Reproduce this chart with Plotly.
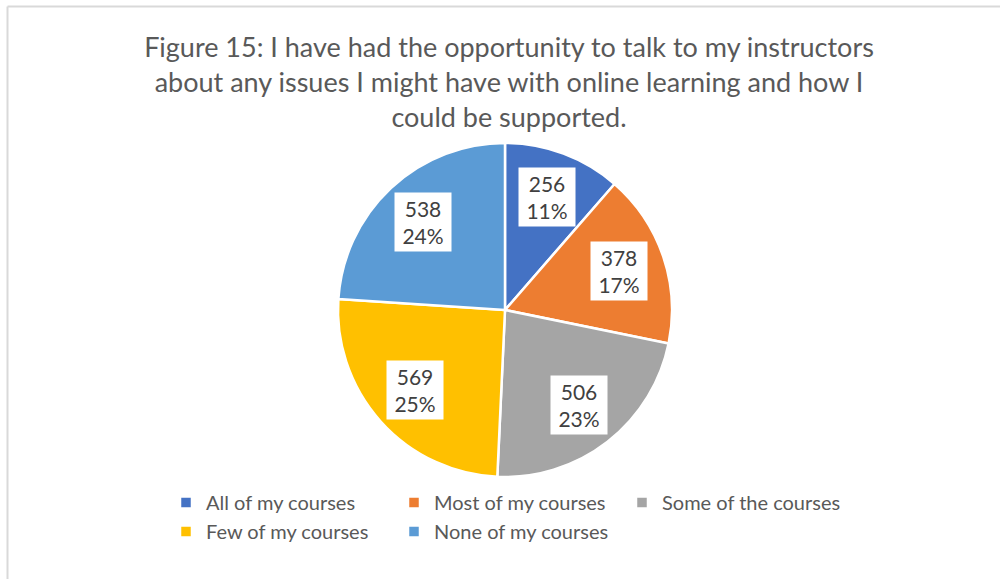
import math
import plotly.graph_objects as go

# data
categories = ["All of my courses", "Most of my courses", "Some of the courses",
              "Few of my courses", "None of my courses"]
counts = [256, 378, 506, 569, 538]
colors = ["#4472C4", "#ED7D31", "#A5A5A5", "#FFC000", "#5B9BD5"]

title_text = ("Figure 15: I have had the opportunity to talk to my instructors<br>"
              "about any issues I might have with online learning and how I<br>"
              "could be supported.")

W, H = 1000, 579
ML, MR = 150, 130          # margins keep the legend at 3 entries per row
PW = W - ML - MR
cx, cy, R = 505, 310, 167  # pie centre / radius in px


def px_x(p):
    return (p - ML) / PW


def px_y(p):
    return 1 - p / H


fig = go.Figure(go.Pie(
    labels=categories,
    values=counts,
    marker=dict(colors=colors, line=dict(color="white", width=2.5)),
    sort=False,
    direction="clockwise",
    rotation=0,
    textinfo="none",
    hoverinfo="label+value+percent",
    domain=dict(x=[px_x(cx - R), px_x(cx + R)], y=[px_y(cy + R), px_y(cy - R)]),
))

# data labels in white boxes at each slice's mid angle
total = sum(counts)
cum = 0
for v in counts:
    mid = (cum + v / 2) / total * 2 * math.pi
    cum += v
    r = 0.72 * R
    fig.add_annotation(
        x=px_x(cx + r * math.sin(mid)), y=px_y(cy - r * math.cos(mid)),
        xref="paper", yref="paper", xanchor="center", yanchor="middle",
        text=f"{v}<br>{round(v / total * 100)}%",
        showarrow=False, bgcolor="white", borderpad=4, width=48, height=50,
        font=dict(family="Lato, Carlito, sans-serif", size=21, color="#404040"),
    )

# chart-area border
fig.add_shape(type="line", xref="paper", yref="paper", x0=px_x(7.5), x1=px_x(1010),
              y0=px_y(6.5), y1=px_y(6.5), line=dict(color="#D9D9D9", width=2))
fig.add_shape(type="line", xref="paper", yref="paper", x0=px_x(7.5), x1=px_x(7.5),
              y0=px_y(590), y1=px_y(6.5), line=dict(color="#D9D9D9", width=2))

fig.update_layout(
    width=W, height=H,
    margin=dict(l=ML, r=MR, t=0, b=0, autoexpand=False),
    paper_bgcolor="white",
    plot_bgcolor="white",
    font=dict(family="Lato, Carlito, sans-serif", color="#595959"),
    title=dict(text=title_text, xref="container", x=0.509, xanchor="center",
               yref="container", y=1 - 57 / H, yanchor="top",
               font=dict(size=27, color="#595959")),
    legend=dict(orientation="h", x=px_x(166), xanchor="left", y=px_y(483), yanchor="top",
                font=dict(size=20, color="#595959"), traceorder="normal",
                entrywidth=183, entrywidthmode="pixels"),
    showlegend=True,
)

fig.write_html("out.html", config={"displayModeBar": False},
               post_script="document.body.style.margin = '0';")
